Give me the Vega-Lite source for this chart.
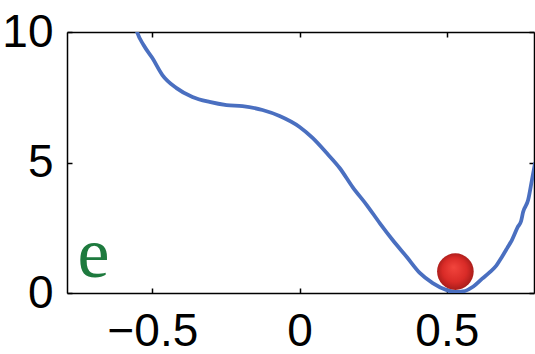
{
  "$schema": "https://vega.github.io/schema/vega-lite/v6.json",
  "width": 467,
  "height": 261,
  "autosize": "none",
  "padding": {"left": 67, "top": 32, "right": 1, "bottom": 61},
  "background": "white",
  "config": {"view": {"stroke": null}},
  "datasets": {
    "curve": [
      {"x": -0.566, "y": 10.6},
      {"x": -0.552, "y": 10.0},
      {"x": -0.53, "y": 9.5},
      {"x": -0.5, "y": 9.0},
      {"x": -0.466, "y": 8.35},
      {"x": -0.418, "y": 7.85},
      {"x": -0.364, "y": 7.51},
      {"x": -0.306, "y": 7.32},
      {"x": -0.248, "y": 7.2},
      {"x": -0.194, "y": 7.16},
      {"x": -0.126, "y": 7.01},
      {"x": -0.068, "y": 6.78},
      {"x": 0.0, "y": 6.36},
      {"x": 0.044, "y": 5.94},
      {"x": 0.092, "y": 5.36},
      {"x": 0.136, "y": 4.79},
      {"x": 0.18, "y": 4.06},
      {"x": 0.228, "y": 3.37},
      {"x": 0.272, "y": 2.68},
      {"x": 0.316, "y": 2.03},
      {"x": 0.364, "y": 1.38},
      {"x": 0.408, "y": 0.77},
      {"x": 0.452, "y": 0.38},
      {"x": 0.5, "y": 0.11},
      {"x": 0.527, "y": 0.04},
      {"x": 0.555, "y": 0.06},
      {"x": 0.59, "y": 0.25},
      {"x": 0.62, "y": 0.55},
      {"x": 0.646, "y": 0.8},
      {"x": 0.668, "y": 1.05},
      {"x": 0.687, "y": 1.38},
      {"x": 0.705, "y": 1.72},
      {"x": 0.721, "y": 2.03},
      {"x": 0.741, "y": 2.53},
      {"x": 0.752, "y": 2.75},
      {"x": 0.759, "y": 3.1},
      {"x": 0.776, "y": 3.56},
      {"x": 0.789, "y": 4.33},
      {"x": 0.8, "y": 5.0}
    ],
    "ball": [{"x": 0.529, "y": 0.82}],
    "label": [{"x": -0.70, "y": 0.61, "t": "e"}]
  },
  "layer": [
    {
      "data": {"name": "curve"},
      "mark": {"type": "line", "color": "#4a6fc0", "strokeWidth": 3.8, "clip": true, "interpolate": "monotone"},
      "encoding": {
        "x": {
          "field": "x", "type": "quantitative",
          "scale": {"domain": [-0.79, 0.796], "nice": false, "zero": false},
          "axis": {
            "values": [-0.5, 0, 0.5], "format": ".1~f", "title": null, "grid": false,
            "domainColor": "black", "domainWidth": 1.5, "tickColor": "black", "tickWidth": 1.5,
            "tickSize": -5, "labelFont": "Liberation Sans", "labelFontSize": 46,
            "labelColor": "black", "labelPadding": 21, "labelFlush": false
          }
        },
        "y": {
          "field": "y", "type": "quantitative",
          "scale": {"domain": [0, 10], "nice": false},
          "axis": {
            "values": [0, 5, 10], "title": null, "grid": false,
            "domainColor": "black", "domainWidth": 1.5, "tickColor": "black", "tickWidth": 1.5,
            "tickSize": -5, "labelFont": "Liberation Sans", "labelFontSize": 46,
            "labelColor": "black", "labelPadding": 19, "labelFlush": false
          }
        }
      }
    },
    {
      "data": {"name": "curve"},
      "mark": {"type": "rule", "opacity": 0},
      "encoding": {
        "x": {"field": "x", "type": "quantitative", "axis": {
          "orient": "top", "values": [-0.5, 0, 0.5], "labels": false, "title": null, "grid": false,
          "domainColor": "black", "domainWidth": 1.5, "tickColor": "black", "tickWidth": 1.5, "tickSize": -5}},
        "y": {"field": "y", "type": "quantitative", "axis": {
          "orient": "right", "values": [0, 5, 10], "labels": false, "title": null, "grid": false,
          "domainColor": "black", "domainWidth": 1.5, "tickColor": "black", "tickWidth": 1.5, "tickSize": -5}}
      }
    },
    {
      "data": {"name": "ball"},
      "mark": {
        "type": "point", "shape": "circle", "filled": true, "size": 1340, "opacity": 1, "strokeWidth": 0,
        "color": {
          "gradient": "radial", "x1": 0.45, "y1": 0.38, "r1": 0, "x2": 0.5, "y2": 0.5, "r2": 0.55,
          "stops": [
            {"offset": 0, "color": "#f2453d"},
            {"offset": 0.6, "color": "#d92b27"},
            {"offset": 1, "color": "#9e1a18"}
          ]
        }
      },
      "encoding": {
        "x": {"field": "x", "type": "quantitative", "axis": null},
        "y": {"field": "y", "type": "quantitative", "axis": null}
      }
    },
    {
      "data": {"name": "label"},
      "mark": {"type": "text", "font": "Liberation Serif", "fontSize": 72, "color": "#1e7a3e", "align": "center", "baseline": "alphabetic"},
      "encoding": {
        "x": {"field": "x", "type": "quantitative", "axis": null},
        "y": {"field": "y", "type": "quantitative", "axis": null},
        "text": {"field": "t"}
      }
    }
  ],
  "resolve": {"axis": {"x": "independent", "y": "independent"}}
}
